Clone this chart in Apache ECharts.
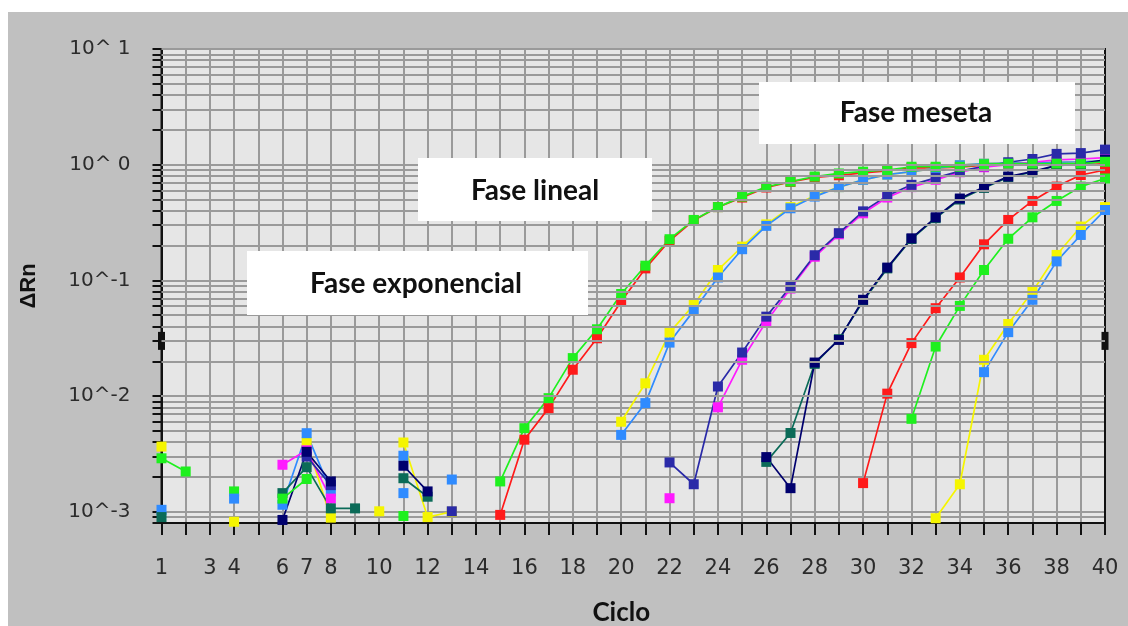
<!DOCTYPE html>
<html><head><meta charset="utf-8">
<script src="https://cdn.jsdelivr.net/npm/echarts@6/dist/echarts.min.js"></script>
<style>
html,body{margin:0;padding:0;background:#fff;width:1128px;height:626px;overflow:hidden}
#chart{position:absolute;left:8px;top:12px;width:1120px;height:614px}
</style></head><body><div id="chart"></div>
<script>
const _ = null;
const cycles = [1,2,3,4,5,6,7,8,9,10,11,12,13,14,15,16,17,18,19,20,21,22,23,24,25,26,27,28,29,30,31,32,33,34,35,36,37,38,39,40];
const xLabelCycles = [1,3,4,6,7,8,10,12,14,16,18,20,22,24,26,28,30,32,34,36,38,40];
const yDecadeLabels = {'-3':'10^-3','-2':'10^-2','-1':'10^-1','0':'10^ 0','1':'10^ 1'};
const yMinorFactors = [1,2,3,4,5,6,7,8,9];
const yDecades = [-4,-3,-2,-1,0];
const threshold = 0.03;

// values per cycle 1..40 (ΔRn)
const redA    = [_,_,_,_,_,_,_,_,_,_,_,_,_,_, 0.00094,0.0042,0.00787,0.0169,0.0316,0.0656,0.127,0.22,0.33,0.43,0.52,0.635,0.71,0.775,0.81,0.85,0.885,0.94,0.94,0.95,0.99,0.99,0.99,0.99,0.99,1.02];
const yellowA = [0.00366,_,_,_,_,_,0.004,0.00089,_,_,0.00397,0.0009,0.001,_,_,_,_,_,_, 0.006,0.0129,0.0354,0.0614,0.123,0.196,0.305,0.43,0.54,0.64,0.74,0.82,0.87,0.93,0.99,1.02,1.03,1.04,1.05,1.06,1.08];
const blueA   = [0.00104,_,_,_,_,0.00115,0.00478,0.0015,_,_,0.00305,_,0.0019,_,_,_,_,_,_, 0.00462,0.0087,0.029,0.0548,0.106,0.186,0.296,0.42,0.53,0.64,0.74,0.82,0.87,0.93,0.99,1.02,1.03,1.04,1.05,1.06,1.08];
const magenta = [_,_,_,_,_,0.00255,0.0034,0.0013,_,_,_,_,_,_,_,_,_,_,_,_,_, 0.00131,_, 0.008,0.0206,0.044,0.085,0.16,0.25,0.38,0.52,0.64,0.74,0.86,0.95,1.0,1.05,1.1,1.12,1.15];
const darkBlue= [_,_,_,_,_,_,0.003,0.0017,_,_,_,_,0.00101,_,_,_,_,_,_,_,_, 0.00267,0.00173,0.0121,0.0238,0.0486,0.088,0.165,0.256,0.395,0.54,0.67,0.77,0.88,0.97,1.05,1.12,1.24,1.26,1.35];
const teal    = [0.0009,_,_,_,_,0.00145,0.00243,0.00107,0.00107,_,0.00195,0.00135,_,_,_,_,_,_,_,_,_,_,_,_,_, 0.0027,0.0048,0.019,0.031,0.066,0.127,0.228,0.345,0.5,0.63,0.78,0.86,0.98,1.01,1.08];
const navy    = [_,_,_,_,_,0.00085,0.0033,0.00183,_,_,0.0025,0.0015,_,_,_,_,_,_,_,_,_,_,_,_,_, 0.00297,0.0016,0.0195,0.0306,0.068,0.129,0.231,0.351,0.51,0.64,0.79,0.87,0.99,1.02,1.1];
const redB    = [_,_,_,_,_,_,_,_,_,_,_,_,_,_,_,_,_,_,_,_,_,_,_,_,_,_,_,_,_, 0.00177,0.0105,0.0287,0.0575,0.106,0.205,0.333,0.486,0.647,0.815,0.90];
const greenA  = [0.0029,0.00223,_,_,_,_,_,_,_,_,0.00092,_,_,_, 0.00183,0.00528,0.0096,0.0213,0.0378,0.0763,0.134,0.227,0.333,0.43,0.53,0.645,0.714,0.79,0.84,0.87,0.90,0.96,0.96,0.96,1.01,1.02,1.02,1.02,1.02,1.06];
const greenB  = [_,_,_,0.0015,_,0.0013,0.00192,_,_,_,_,_,_,_,_,_,_,_,_,_,_,_,_,_,_,_,_,_,_,_,_, 0.00636,0.0268,0.0602,0.123,0.229,0.351,0.486,0.647,0.76];
const yellowB = [_,_,_,0.00082,_,_,_,_,_,0.00101,_,_,_,_,_,_,_,_,_,_,_,_,_,_,_,_,_,_,_,_,_,_, 0.00088,0.00173,0.0206,0.042,0.080,0.166,0.292,0.43];
const blueB   = [_,_,_,0.0013,_,_,_,_,_,_,0.00145,_,_,_,_,_,_,_,_,_,_,_,_,_,_,_,_,_,_,_,_,_,_,_, 0.0161,0.0357,0.068,0.146,0.247,0.406];

const wells = [
  {name:'Muestra 1', color:'#ff1a1a', values:redA},
  {name:'Muestra 2', color:'#f5f500', values:yellowA},
  {name:'Muestra 3', color:'#2f8bff', values:blueA},
  {name:'Muestra 4', color:'#ff1aff', values:magenta},
  {name:'Muestra 5', color:'#2a2aa8', values:darkBlue},
  {name:'Muestra 6', color:'#0b6b58', values:teal},
  {name:'Muestra 7', color:'#00006e', values:navy},
  {name:'Muestra 8', color:'#ff1a1a', values:redB},
  {name:'Muestra 9', color:'#1ef01e', values:greenA},
  {name:'Muestra 10', color:'#1ef01e', values:greenB},
  {name:'Muestra 11', color:'#f5f500', values:yellowB},
  {name:'Muestra 12', color:'#2f8bff', values:blueB}
];

const yMin = 0.0008, yMax = 10;
const yGridValues = [];
yDecades.forEach(d => yMinorFactors.forEach(f => {
  const v = +(f * Math.pow(10, d)).toPrecision(6);
  if (v >= yMin && v <= yMax) yGridValues.push(v);
}));
yGridValues.push(yMax);

const series = wells.map(w => ({
  type:'line', name:w.name,
  data: cycles.map((c,i) => [c, w.values[i]]),
  symbol:'rect', symbolSize:10, showSymbol:true, showAllSymbol:true, connectNulls:false,
  lineStyle:{width:1.7, color:w.color}, itemStyle:{color:w.color},
  z:4, animation:false, silent:true
}));
series.unshift({
  type:'line', name:'grid', data:[], z:2, silent:true, animation:false,
  markLine:{silent:true, animation:false, symbol:'none', label:{show:false},
    lineStyle:{color:'#9a9a9a', width:2, type:'solid'},
    data: yGridValues.map(v => ({yAxis:v}))}
});
series.unshift({
  type:'line', name:'umbral', data:[], z:3, silent:true, animation:false,
  markLine:{silent:true, animation:false, symbol:['rect','rect'], symbolSize:[18,7], label:{show:false},
    lineStyle:{color:'#111', width:2, type:'solid'},
    data:[{yAxis:threshold}]}
});

function phaseBox(x, y, w, h, tx, ty, label) {
  return {type:'group', z:100, children:[
    {type:'rect', z:100, shape:{x:x, y:y, width:w, height:h}, style:{fill:'#ffffff'}},
    {type:'text', z:101, style:{x:tx, y:ty, text:label, align:'center', verticalAlign:'middle', font:'bold 28px Lato', fill:'#111'}}
  ]};
}

const chart = echarts.init(document.getElementById('chart'), null, {renderer:'canvas'});
chart.setOption({
  backgroundColor:'#c0c0c0',
  animation:false,
  grid:{left:153.5, right:23, top:37, bottom:103, containLabel:false, outerBoundsMode:'none',
    show:true, backgroundColor:'#e6e6e6', borderColor:'#111', borderWidth:2},
  xAxis:[{
    type:'value', min:1, max:40, interval:1,
    axisLine:{show:true, onZero:false, lineStyle:{color:'#111', width:2}},
    axisTick:{show:true, length:12, lineStyle:{color:'#111', width:2}},
    axisLabel:{margin:35, fontFamily:'DejaVu Sans', fontSize:21, color:'#2b2b2b',
      formatter:v => xLabelCycles.includes(v) ? String(v) : ''},
    splitLine:{show:true, lineStyle:{color:'#9a9a9a', width:2}},
    name:'Ciclo', nameLocation:'middle', nameGap:77,
    nameTextStyle:{fontFamily:'Lato', fontWeight:'bold', fontSize:26, color:'#111', padding:[0,24,0,0]}
  },{
    type:'value', min:1, max:40, position:'top',
    axisLine:{show:true, onZero:false, lineStyle:{color:'#111', width:2}},
    axisTick:{show:false}, axisLabel:{show:false}, splitLine:{show:false}
  }],
  yAxis:[{
    type:'log', logBase:10, min:yMin, max:yMax,
    axisLine:{show:true, onZero:false, lineStyle:{color:'#111', width:2}},
    axisTick:{show:true, length:9, lineStyle:{color:'#111', width:2}, customValues:yGridValues},
    axisLabel:{margin:31, fontFamily:'DejaVu Sans', fontSize:20, color:'#2b2b2b', formatter:v => {
      const e = Math.round(Math.log10(v));
      if (Math.abs(Math.log10(v) - e) > 1e-6) return '';
      return yDecadeLabels[String(e)] || '';
    }},
    splitLine:{show:true, lineStyle:{color:'#9a9a9a', width:2}},
    name:'ΔRn', nameLocation:'middle', nameGap:122, nameRotate:90,
    nameTextStyle:{fontFamily:'Liberation Sans', fontWeight:'bold', fontSize:22, color:'#111'}
  },{
    type:'log', logBase:10, min:yMin, max:yMax, position:'right',
    axisLine:{show:true, onZero:false, lineStyle:{color:'#111', width:2}},
    axisTick:{show:false}, axisLabel:{show:false}, splitLine:{show:false}
  }],
  graphic:[
    phaseBox(239, 239, 341, 64, 408, 271.5, 'Fase exponencial'),
    phaseBox(410, 146, 234, 63, 527, 179, 'Fase lineal'),
    phaseBox(751, 70, 316, 62, 908, 101, 'Fase meseta')
  ],
  series: series
});
</script></body></html>
